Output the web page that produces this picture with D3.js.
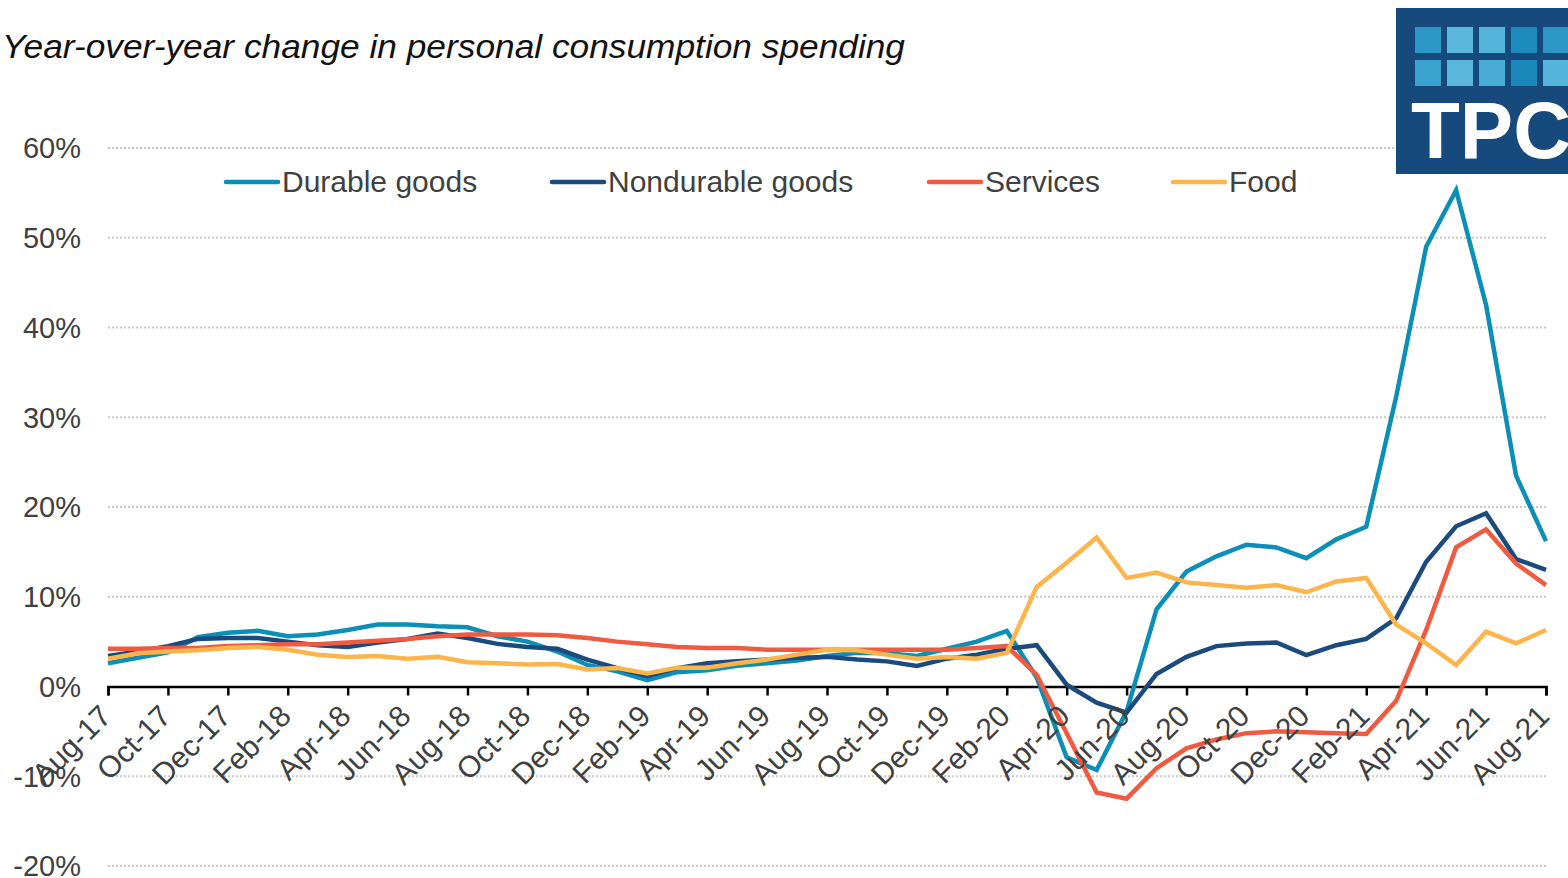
<!DOCTYPE html>
<html lang="en">
  <head>
    <meta charset="utf-8">
    <script src="https://d3js.org/d3.v7.min.js"></script>
    <style>
      body { margin: 0; background: #fff; }
      svg { display: block; font-family: "Liberation Sans", Arial, sans-serif; }
    </style>
  </head>
<body>
  <div id="chart"></div>
  <script>
    // plot setup
    var width = 1568;
    var height = 878;

    // month labels, Aug-17 .. Aug-21
    var months = ["Aug-17","Sep-17","Oct-17","Nov-17","Dec-17","Jan-18","Feb-18","Mar-18","Apr-18","May-18","Jun-18","Jul-18",
                  "Aug-18","Sep-18","Oct-18","Nov-18","Dec-18","Jan-19","Feb-19","Mar-19","Apr-19","May-19","Jun-19","Jul-19",
                  "Aug-19","Sep-19","Oct-19","Nov-19","Dec-19","Jan-20","Feb-20","Mar-20","Apr-20","May-20","Jun-20","Jul-20",
                  "Aug-20","Sep-20","Oct-20","Nov-20","Dec-20","Jan-21","Feb-21","Mar-21","Apr-21","May-21","Jun-21","Jul-21","Aug-21"];

    // series values (% change, year over year)
    var durable = [2.6,3.2,3.8,5.5,6.0,6.2,5.6,5.8,6.3,6.9,6.9,6.7,
                   6.6,5.6,5.0,3.9,2.4,1.7,0.7,1.6,1.8,2.3,2.6,2.9,
                   3.4,3.75,3.7,3.4,4.2,5.0,6.2,1.0,-7.9,-9.3,-2.8,8.6,
                   12.8,14.5,15.8,15.5,14.3,16.4,17.8,32.3,49.0,55.3,42.5,23.5,16.2];
    var nondurable = [3.4,3.9,4.5,5.3,5.4,5.4,5.0,4.6,4.4,4.9,5.3,5.9,
                      5.4,4.75,4.4,4.2,3.0,2.05,1.15,2.05,2.6,2.8,3.0,3.2,
                      3.3,3.0,2.8,2.3,3.1,3.55,4.2,4.6,0.2,-1.8,-2.9,1.4,
                      3.3,4.5,4.8,4.9,3.5,4.6,5.3,7.6,13.9,17.85,19.3,14.2,13.0];
    var services = [4.2,4.2,4.3,4.3,4.5,4.6,4.7,4.7,4.9,5.1,5.3,5.6,
                    5.8,5.8,5.8,5.7,5.4,5.0,4.7,4.4,4.3,4.3,4.1,4.1,
                    4.1,4.1,4.1,4.1,4.1,4.3,4.5,1.3,-5.2,-11.8,-12.5,-9.1,
                    -6.9,-5.9,-5.2,-5.0,-5.1,-5.2,-5.3,-1.6,6.3,15.5,17.5,13.7,11.3];
    var food = [3.1,3.7,3.9,4.05,4.3,4.4,4.1,3.55,3.3,3.4,3.1,3.3,
                2.7,2.6,2.45,2.5,1.9,2.05,1.45,2.1,2.1,2.6,3.0,3.55,
                4.1,4.05,3.55,3.1,3.3,3.1,3.75,11.1,13.8,16.6,12.1,12.7,
                11.6,11.3,11.0,11.3,10.5,11.7,12.1,6.9,4.8,2.4,6.1,4.8,6.3];

    var seriesNames = ["Durable goods", "Nondurable goods", "Services", "Food"];
    var seriesValues = [durable, nondurable, services, food];
    var seriesColors = ["#0b8fb6", "#1b4b7e", "#f05a40", "#fdb54b"];

    var yTicks = [-20, -10, 0, 10, 20, 30, 40, 50, 60];

    // create svg
    var svg = d3.select("#chart")
                .append("svg")
                .attr("width", width)
                .attr("height", height);

    // define scales
    var xScale = d3.scaleLinear()
                   .domain([0, months.length - 1])
                   .range([108, 1546]);

    var yScale = d3.scaleLinear()
                   .domain([-20, 60])
                   .range([866, 148]);

    // title
    svg.append("text")
       .attr("x", 2)
       .attr("y", 58)
       .attr("font-size", 33)
       .attr("font-style", "italic")
       .attr("fill", "#111")
       .attr("textLength", 903)
       .attr("lengthAdjust", "spacingAndGlyphs")
       .text("Year-over-year change in personal consumption spending");

    // dotted gridlines
    svg.append("g")
       .selectAll("line")
       .data(yTicks.filter(function(d){ return d !== 0; }))
       .enter()
       .append("line")
       .attr("x1", xScale(0))
       .attr("x2", xScale(months.length - 1))
       .attr("y1", function(d){ return yScale(d); })
       .attr("y2", function(d){ return yScale(d); })
       .attr("stroke", "#c9c9c9")
       .attr("stroke-width", 2)
       .attr("stroke-dasharray", "2,2");

    // y labels
    svg.append("g")
       .selectAll("text")
       .data(yTicks)
       .enter()
       .append("text")
       .attr("x", 81)
       .attr("y", function(d){ return yScale(d); })
       .attr("dy", "0.36em")
       .attr("text-anchor", "end")
       .attr("font-size", 29)
       .attr("fill", "#404040")
       .text(function(d){ return d + "%"; });

    // x axis at 0%
    var xAxis = d3.axisBottom(xScale)
                  .tickValues(d3.range(0, months.length, 2))
                  .tickSize(9)
                  .tickFormat("");

    var gx = svg.append("g")
       .attr("class", "x axis")
       .attr("transform", "translate(0," + yScale(0) + ")")
       .call(xAxis);
    gx.select(".domain").attr("stroke", "#000").attr("stroke-width", 2.5);
    gx.selectAll(".tick line").attr("stroke", "#000").attr("stroke-width", 2.5);

    // lines
    var line = d3.line()
        .x(function(d, i){ return xScale(i); })
        .y(function(d){ return yScale(d); });

    svg.append("g")
       .selectAll("path")
       .data(seriesValues)
       .enter()
       .append("path")
       .attr("d", line)
       .attr("fill", "none")
       .attr("stroke", function(d, i){ return seriesColors[i]; })
       .attr("stroke-width", 4.5)
       .attr("stroke-linejoin", "miter");

    // rotated month labels
    svg.append("g")
       .selectAll("text")
       .data(d3.range(0, months.length, 2))
       .enter()
       .append("text")
       .attr("transform", function(d){
         return "translate(" + (xScale(d) + 5) + "," + 718 + ") rotate(-45)";
       })
       .attr("text-anchor", "end")
       .attr("font-size", 30)
       .attr("fill", "#404040")
       .text(function(d){ return months[d]; });

    // legend
    var legendX = [226, 552, 929, 1173];
    var legend = svg.append("g")
       .selectAll("g")
       .data(seriesNames)
       .enter()
       .append("g")
       .attr("transform", function(d, i){ return "translate(" + legendX[i] + ",182)"; });
    legend.append("line")
       .attr("x1", 0).attr("x2", 52)
       .attr("stroke", function(d, i){ return seriesColors[i]; })
       .attr("stroke-width", 4.5)
       .attr("stroke-linecap", "round");
    legend.append("text")
       .attr("x", 56)
       .attr("y", 10)
       .attr("font-size", 30)
       .attr("fill", "#404040")
       .text(function(d){ return d; });

    // TPC logo
    var logo = svg.append("g");
    logo.append("rect")
        .attr("x", 1396).attr("y", 8)
        .attr("width", 172).attr("height", 166)
        .attr("fill", "#164a7d");
    var sqColors = [["#2a97c4","#5ab7db","#55b4da","#1d8bbd","#2a97c4"],
                    ["#3aa2cf","#5ab7db","#48acd5","#1a88ba","#55b4da"]];
    var colsX = [1415, 1447, 1479, 1511, 1543];
    var rowsY = [27, 60];
    rowsY.forEach(function(ry, r){
      colsX.forEach(function(cx, c){
        logo.append("rect")
            .attr("x", cx).attr("y", ry)
            .attr("width", 26).attr("height", 26)
            .attr("fill", sqColors[r][c]);
      });
    });
    logo.append("text")
        .attr("x", 1411)
        .attr("y", 158)
        .attr("font-size", 80)
        .attr("font-weight", "bold")
        .attr("fill", "#fff")
        .text("TPC");
  </script>
</body>
</html>
